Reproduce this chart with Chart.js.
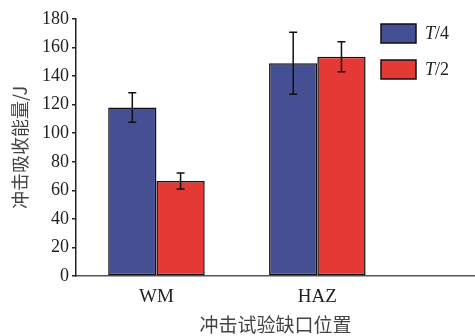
<!DOCTYPE html>
<html lang="zh-CN">
<head>
  <meta charset="UTF-8">
  <title>冲击吸收能量</title>
  <script src="https://cdn.jsdelivr.net/npm/chart.js"></script>
  <style>
    body { margin: 0; background: #fff; }
    #wrap { width: 475px; height: 336px; }
  </style>
</head>
<body>
  <div id="wrap"><canvas id="grafico"></canvas></div>
  <script>
    const categorias = ['WM', 'HAZ'];
    const series = ['T/4', 'T/2'];
    const valoresT4 = [118, 149];
    const valoresT2 = [66.5, 153.5];
    const erroT4 = [10.3, 21.7];
    const erroT2 = [5.6, 10.5];
    const ticksY = [0, 20, 40, 60, 80, 100, 120, 140, 160, 180];

    const azul = '#454f93';
    const vermelho = '#e43935';
    const serif = "'Liberation Serif', 'Times New Roman', serif";
    const cjk = "'Noto Sans CJK SC', sans-serif";

    // barras de erro desenhadas depois das barras
    const barrasErro = {
      id: 'barrasErro',
      afterDatasetsDraw(chart) {
        const ctx = chart.ctx;
        const y = chart.scales.y;
        const valores = [valoresT4, valoresT2];
        const erros = [erroT4, erroT2];
        ctx.save();
        ctx.strokeStyle = '#111';
        ctx.lineWidth = 1.5;
        chart.data.datasets.forEach((ds, i) => {
          chart.getDatasetMeta(i).data.forEach((bar, j) => {
            const v = valores[i][j], e = erros[i][j];
            const yt = y.getPixelForValue(v + e), yb = y.getPixelForValue(v - e);
            ctx.beginPath();
            ctx.moveTo(bar.x, yt); ctx.lineTo(bar.x, yb);
            ctx.moveTo(bar.x - 4, yt); ctx.lineTo(bar.x + 4, yt);
            ctx.moveTo(bar.x - 4, yb); ctx.lineTo(bar.x + 4, yb);
            ctx.stroke();
          });
        });
        ctx.restore();
      }
    };

    // legenda no canto superior direito, com T em itálico
    const legenda = {
      id: 'legenda',
      afterDraw(chart) {
        const ctx = chart.ctx;
        const cores = [azul, vermelho];
        ctx.save();
        series.forEach((s, i) => {
          const top = 24 + i * 36;
          ctx.fillStyle = cores[i];
          ctx.strokeStyle = '#111';
          ctx.lineWidth = 1.5;
          ctx.fillRect(381, top, 35, 19);
          ctx.strokeRect(381, top, 35, 19);
          ctx.fillStyle = '#222';
          ctx.textBaseline = 'middle';
          ctx.font = 'italic 18px ' + serif;
          ctx.fillText('T', 425, top + 10);
          const w = ctx.measureText('T').width;
          ctx.font = '18px ' + serif;
          ctx.fillText(s.slice(1), 425 + w, top + 10);
        });
        ctx.restore();
      }
    };

    const pontos = arr => arr.map((v, i) => ({ x: i, y: v }));

    new Chart(document.getElementById('grafico'), {
      type: 'bar',
      data: {
        datasets: [
          { label: series[0], data: pontos(valoresT4), backgroundColor: azul },
          { label: series[1], data: pontos(valoresT2), backgroundColor: vermelho }
        ]
      },
      options: {
        responsive: true,
        maintainAspectRatio: false,
        animation: false,
        layout: { padding: { top: 19, right: 0, left: 0, bottom: 0 } },
        datasets: {
          bar: {
            categoryPercentage: 0.6,
            barPercentage: 1,
            borderColor: '#111',
            borderWidth: 1.5,
            borderSkipped: false
          }
        },
        plugins: {
          legend: { display: false },
          tooltip: { enabled: false }
        },
        scales: {
          x: {
            type: 'linear',
            offset: false,
            min: -0.5,
            max: 1.98,
            afterBuildTicks(s) { s.ticks = categorias.map((c, i) => ({ value: i })); },
            grid: { display: false, offset: false },
            border: { display: true, color: '#555', width: 1.5 },
            ticks: {
              color: '#222',
              font: { family: serif, size: 19 },
              padding: 2,
              callback: v => categorias[v]
            },
            title: {
              display: true,
              text: '冲击试验缺口位置',
              color: '#444',
              font: { family: cjk, size: 19 },
              padding: { top: 0, bottom: 0 }
            },
            afterFit(s) { s.height = 60; }
          },
          y: {
            min: 0,
            max: 180,
            afterBuildTicks(s) { s.ticks = ticksY.map(v => ({ value: v })); },
            grid: { drawOnChartArea: false, tickLength: 4, color: '#222', lineWidth: 1.5 },
            border: { color: '#222', width: 1.5 },
            ticks: { color: '#222', font: { family: serif, size: 18 }, padding: 3 },
            title: {
              display: true,
              text: '冲击吸收能量/J',
              color: '#444',
              font: { family: cjk, size: 18 },
              padding: { top: 9, bottom: 0 }
            },
            afterFit(s) { s.width = 76; }
          }
        }
      },
      plugins: [barrasErro, legenda]
    });
  </script>
</body>
</html>
